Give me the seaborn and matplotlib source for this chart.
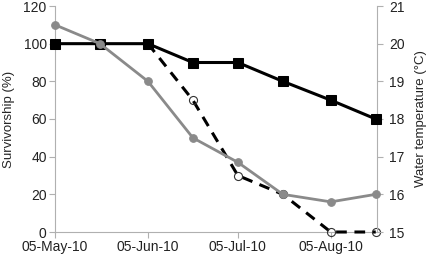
import matplotlib
matplotlib.use("Agg")
import matplotlib.pyplot as plt
import matplotlib.dates as mdates
import seaborn as sns
import pandas as pd

sns.set_style("white")
plt.rcParams['font.family'] = ['Liberation Sans', 'DejaVu Sans']

dates = pd.to_datetime(["2010-05-05", "2010-05-20", "2010-06-05", "2010-06-20",
                        "2010-07-05", "2010-07-20", "2010-08-05", "2010-08-20"])
survivorship_a = [110, 100, 80, 50, 37, 20, 16, 20]
dashed_dates = dates[2:]
survivorship_b = [100, 70, 30, 20, 0, 0]
water_temp = [20, 20, 20, 19.5, 19.5, 19, 18.5, 18]
tick_dates = pd.to_datetime(["2010-05-05", "2010-06-05", "2010-07-05", "2010-08-05"])

fig = plt.figure(figsize=(4.31, 2.57), dpi=100)
ax = fig.add_axes([55/431, 25/257, 322/431, 226/257])  # axes + dashed survivorship (bottom layer)
ax2 = ax.twinx()   # temperature (middle layer)
ax3 = ax.twinx()   # gray survivorship (top layer)

gray = "#8a8a8a"
dfa = pd.DataFrame({"date": dates, "v": survivorship_a})
dfb = pd.DataFrame({"date": dashed_dates, "v": survivorship_b})
dft = pd.DataFrame({"date": dates, "v": water_temp})

sns.lineplot(data=dfb, x="date", y="v", ax=ax, color="black", lw=2.2,
             marker="o", markersize=5.8,
             markerfacecolor="none", markeredgecolor="#333333",
             markeredgewidth=0.8, zorder=3)
ax.lines[-1].set_linestyle((0, (3.5, 2.5)))
sns.lineplot(data=dft, x="date", y="v", ax=ax2, color="black", lw=2.2,
             marker="s", markersize=7, markeredgecolor="black", zorder=3)
sns.lineplot(data=dfa, x="date", y="v", ax=ax3, color=gray, lw=2,
             marker="o", markersize=5.5, markeredgecolor=gray, zorder=3)

ax.set_ylim(0, 120)
ax3.set_ylim(0, 120)
ax.set_yticks([0, 20, 40, 60, 80, 100, 120])
ax2.set_ylim(15, 21)
ax2.set_yticks([15, 16, 17, 18, 19, 20, 21])
ax.set_xlim(pd.Timestamp("2010-05-05"), pd.Timestamp("2010-08-20") + pd.Timedelta(hours=10))
ax.set_xticks(tick_dates)
ax.xaxis.set_major_formatter(mdates.DateFormatter("%d-%b-%y"))

ax.set_xlabel("")
ax.set_ylabel("Survivorship (%)", fontsize=9.5, labelpad=6)
ax2.set_ylabel("Water temperature (°C)", fontsize=9.5, labelpad=7)
ax3.set_ylabel("")
ax3.set_yticks([])

spine_c = "#b0b0b0"
for a in (ax, ax2, ax3):
    for s in a.spines.values():
        s.set_visible(False)
    a.tick_params(labelsize=10, colors="#222222", length=4, width=0.8, pad=2)
    a.tick_params(axis="both", color=spine_c)
    a.grid(False)
ax.spines["left"].set_visible(True)
ax.spines["bottom"].set_visible(True)
ax2.spines["right"].set_visible(True)
ax.spines["left"].set_color(spine_c)
ax.spines["bottom"].set_color(spine_c)
ax2.spines["right"].set_color(spine_c)
ax.tick_params(axis="y", left=True)
ax.tick_params(axis="x", bottom=True)
ax2.tick_params(axis="y", right=True, pad=5)

ax.set_zorder(1)
ax2.set_zorder(2)
ax3.set_zorder(3)
ax2.patch.set_visible(False)
ax3.patch.set_visible(False)
for l in ax.lines + ax2.lines + ax3.lines:
    l.set_clip_on(False)

fig.savefig("out.png", dpi=100)
